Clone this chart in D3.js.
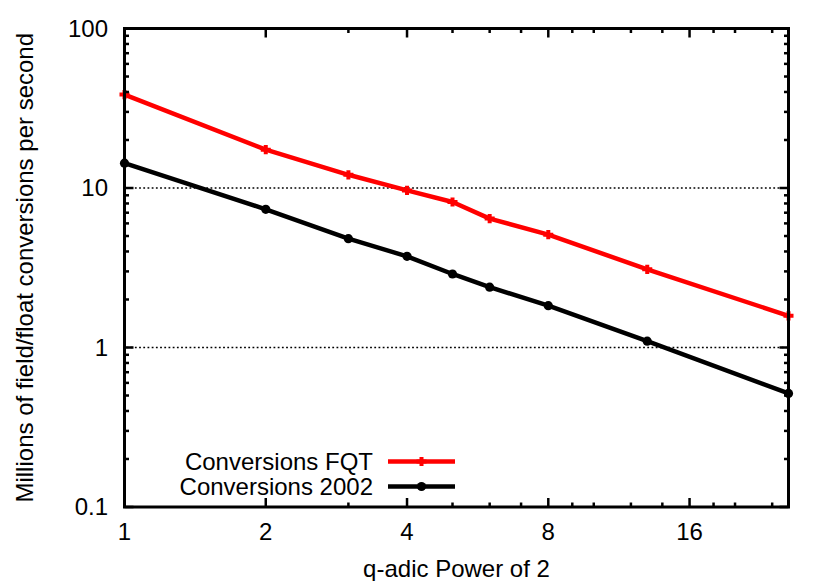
<!DOCTYPE html>
<html>
<head>
<meta charset="utf-8">
<script src="https://cdn.jsdelivr.net/npm/d3@7"></script>
<style>
  html, body { margin: 0; padding: 0; background: #fff; }
  svg { display: block; }
  text { font-family: "Liberation Sans", Arial, Helvetica, sans-serif; fill: #000; }
</style>
</head>
<body>
<svg id="chart" width="830" height="581"></svg>
<script>
// ---- data ----
const qPowers = [1, 2, 3, 4, 5, 6, 8, 13, 26];
const conversionsFQT = [38.5, 17.4, 12.1, 9.66, 8.17, 6.43, 5.10, 3.09, 1.58];
const conversions2002 = [14.3, 7.35, 4.81, 3.73, 2.89, 2.39, 1.83, 1.095, 0.515];
const seriesNames = ["Conversions FQT", "Conversions 2002"];
const xMajorTicks = [1, 2, 4, 8, 16];
const xMinorTicks = [3, 5, 6, 7, 9, 10, 12, 14, 18, 20, 24];
const yMajorTicks = [0.1, 1, 10, 100];
const yTickLabels = ["0.1", "1", "10", "100"];
const xTitle = "q-adic Power of 2";
const yTitle = "Millions of field/float conversions per second";

// ---- layout ----
const svg = d3.select("#chart");
const L = 124.5, R = 788.5, T = 28.5, B = 507;
const x = d3.scaleLog().base(2).domain([1, 26]).range([L, R]);
const y = d3.scaleLog().base(10).domain([0.1, 100]).range([B, T]);

const yMinorTicks = [];
for (let d = 0.1; d < 100; d *= 10) {
  for (let k = 2; k <= 9; k++) yMinorTicks.push(+(d * k).toPrecision(3));
}

// grid (dotted, only interior majors)
svg.append("g").selectAll("line")
  .data(yMajorTicks.filter(v => v > 0.1 && v < 100))
  .join("line")
  .attr("x1", L + 2).attr("x2", R - 2)
  .attr("y1", d => y(d)).attr("y2", d => y(d))
  .attr("stroke", "#000").attr("stroke-width", 1.6)
  .attr("stroke-dasharray", "1.8,2.4");

// series
const series = [
  { name: seriesNames[0], values: conversionsFQT, color: "#ff0000", marker: "plus" },
  { name: seriesNames[1], values: conversions2002, color: "#000000", marker: "circle" }
];
const line = d3.line().x(d => x(d[0])).y(d => y(d[1]));
const plusPath = "M-5,0H5M0,-4.6V4.6";

series.forEach(s => {
  const pts = qPowers.map((q, i) => [q, s.values[i]]);
  const g = svg.append("g");
  g.append("path").datum(pts)
    .attr("d", line).attr("fill", "none")
    .attr("stroke", s.color).attr("stroke-width", 4.5)
    .attr("stroke-linejoin", "round");
  if (s.marker === "plus") {
    g.selectAll("path.m").data(pts).join("path").attr("class", "m")
      .attr("transform", d => `translate(${x(d[0])},${y(d[1])})`)
      .attr("d", plusPath).attr("stroke", s.color).attr("stroke-width", 4);
  } else {
    g.selectAll("circle").data(pts).join("circle")
      .attr("cx", d => x(d[0])).attr("cy", d => y(d[1]))
      .attr("r", 4.6).attr("fill", s.color);
  }
});

// legend
const legX = 373, legLine0 = 388, legLine1 = 455, legY0 = 461.5, legDy = 25;
series.forEach((s, i) => {
  const yy = legY0 + i * legDy;
  svg.append("text").attr("x", legX).attr("y", yy).attr("dy", "0.35em")
    .attr("text-anchor", "end").attr("font-size", 24).text(s.name);
  svg.append("line").attr("x1", legLine0).attr("x2", legLine1)
    .attr("y1", yy).attr("y2", yy).attr("stroke", s.color).attr("stroke-width", 4.5);
  const mx = (legLine0 + legLine1) / 2;
  if (s.marker === "plus") {
    svg.append("path").attr("transform", `translate(${mx},${yy})`)
      .attr("d", plusPath).attr("stroke", s.color).attr("stroke-width", 4);
  } else {
    svg.append("circle").attr("cx", mx).attr("cy", yy).attr("r", 4.6).attr("fill", s.color);
  }
});

// ticks (inward, mirrored)
const tk = svg.append("g").attr("stroke", "#000");
function xTicks(vals, len, w) {
  vals.forEach(v => {
    tk.append("line").attr("x1", x(v)).attr("x2", x(v)).attr("y1", B).attr("y2", B - len).attr("stroke-width", w);
    tk.append("line").attr("x1", x(v)).attr("x2", x(v)).attr("y1", T).attr("y2", T + len).attr("stroke-width", w);
  });
}
function yTicks(vals, len, w) {
  vals.forEach(v => {
    tk.append("line").attr("y1", y(v)).attr("y2", y(v)).attr("x1", L).attr("x2", L + len).attr("stroke-width", w);
    tk.append("line").attr("y1", y(v)).attr("y2", y(v)).attr("x1", R).attr("x2", R - len).attr("stroke-width", w);
  });
}
xTicks(xMajorTicks, 9, 2.5);
xTicks(xMinorTicks, 4.5, 2.5);
yTicks(yMajorTicks, 9, 2.5);
yTicks(yMinorTicks, 4.5, 2.5);

// border
svg.append("rect").attr("x", L).attr("y", T).attr("width", R - L).attr("height", B - T)
  .attr("fill", "none").attr("stroke", "#000").attr("stroke-width", 3);

// tick labels
svg.append("g").selectAll("text").data(xMajorTicks).join("text")
  .attr("x", d => x(d)).attr("y", 540).attr("text-anchor", "middle")
  .attr("font-size", 24).text(d => d);
svg.append("g").selectAll("text").data(yMajorTicks).join("text")
  .attr("x", 108).attr("y", d => y(d)).attr("dy", "0.35em").attr("text-anchor", "end")
  .attr("font-size", 24).text((d, i) => yTickLabels[i]);

// titles
svg.append("text").attr("x", (L + R) / 2).attr("y", 577).attr("text-anchor", "middle")
  .attr("font-size", 24).text(xTitle);
svg.append("text").attr("transform", `translate(33,${(T + B) / 2}) rotate(-90)`)
  .attr("text-anchor", "middle").attr("font-size", 24).text(yTitle);
</script>
</body>
</html>
